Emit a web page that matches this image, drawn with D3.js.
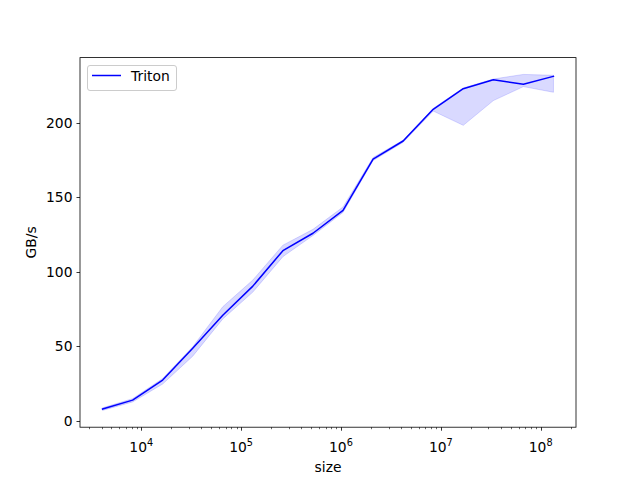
<!DOCTYPE html>
<html>
<head>
<meta charset="utf-8">
<script src="https://cdn.jsdelivr.net/npm/d3@7"></script>
<style>
  html, body { margin: 0; padding: 0; background: #fff; }
  svg text { font-family: "DejaVu Sans", sans-serif; fill: #000; }
</style>
</head>
<body>
<svg id="chart" width="640" height="480"></svg>
<script>
// ---- data ----
const sizes = [4096, 8192, 16384, 32768, 65536, 131072, 262144, 524288,
               1048576, 2097152, 4194304, 8388608, 16777216, 33554432, 67108864, 134217728];
const gbps  = [8.0, 14.0, 27.5, 48.8, 71.0, 90.5, 114.3, 126.0,
               141.4, 175.8, 187.9, 209.2, 223.0, 229.0, 226.0, 231.3];
const gbpsMin = [7.1, 12.8, 24.8, 43.5, 68.5, 86.5, 110.3, 124.5,
                 140.0, 174.8, 187.0, 208.0, 198.4, 215.0, 224.4, 220.6];
const gbpsMax = [8.8, 15.0, 28.5, 49.8, 76.7, 94.6, 118.0, 128.6,
                 143.6, 176.8, 188.5, 209.8, 223.5, 229.5, 232.6, 232.0];
const yTicks = [0, 50, 100, 150, 200];
const seriesName = "Triton";
const xLabel = "size";
const yLabel = "GB/s";

// ---- layout ----
const W = 640, H = 480;
const L = 80, R = 576, T = 57.6, B = 427.2;
const fs = 13.89;

const svg = d3.select("#chart");

// x scale: log with 5% margins in log-space
const lx0 = Math.log10(d3.min(sizes)), lx1 = Math.log10(d3.max(sizes));
const px = (lx1 - lx0) * 0.05;
const x = d3.scaleLog().domain([Math.pow(10, lx0 - px), Math.pow(10, lx1 + px)]).range([L, R]);

// y scale: linear with 5% margins
const ymin = d3.min(gbpsMin.concat(gbps)), ymax = d3.max(gbpsMax.concat(gbps));
const py = (ymax - ymin) * 0.05;
const y = d3.scaleLinear().domain([ymin - py, ymax + py]).range([B, T]);

const data = sizes.map((s, i) => ({ s, v: gbps[i], lo: gbpsMin[i], hi: gbpsMax[i] }));

// band
svg.append("path")
  .datum(data)
  .attr("d", d3.area().x(d => x(d.s)).y0(d => y(d.lo)).y1(d => y(d.hi)))
  .attr("fill", "rgba(0,0,255,0.15)")
  .attr("stroke", "rgba(0,0,255,0.15)")
  .attr("stroke-width", 1);

// line
svg.append("path")
  .datum(data)
  .attr("d", d3.line().x(d => x(d.s)).y(d => y(d.v)))
  .attr("fill", "none")
  .attr("stroke", "#0000ff")
  .attr("stroke-width", 1.5)
  .attr("stroke-linejoin", "round")
  .attr("stroke-linecap", "square");

// spines
svg.append("rect")
  .attr("x", L).attr("y", T).attr("width", R - L).attr("height", B - T)
  .attr("fill", "none").attr("stroke", "#000").attr("stroke-width", 0.8);

// x ticks
const xt = x.ticks();
const xg = svg.append("g");
xt.forEach(t => {
  const lg = Math.log10(t);
  const major = Math.abs(lg - Math.round(lg)) < 1e-9;
  const xx = Math.round(x(t)) + 0.5;
  xg.append("line")
    .attr("x1", xx).attr("x2", xx)
    .attr("y1", B).attr("y2", B + (major ? 3.5 : 2))
    .attr("stroke", "#000").attr("stroke-width", major ? 0.8 : 0.6);
  if (major) {
    const txt = xg.append("text")
      .attr("x", x(t)).attr("y", 451.5)
      .attr("text-anchor", "middle")
      .attr("font-size", fs);
    txt.append("tspan").text("10");
    txt.append("tspan").attr("font-size", fs * 0.7).attr("dy", -6).text(String(Math.round(lg)));
  }
});

// y ticks
const yg = svg.append("g");
yTicks.forEach(t => {
  const yy = Math.round(y(t)) + 0.5;
  yg.append("line")
    .attr("x1", L - 3.5).attr("x2", L)
    .attr("y1", yy).attr("y2", yy)
    .attr("stroke", "#000").attr("stroke-width", 0.8);
  yg.append("text")
    .attr("x", L - 7.5).attr("y", y(t))
    .attr("dy", "0.36em")
    .attr("text-anchor", "end")
    .attr("font-size", fs)
    .text(t);
});

// axis labels
svg.append("text")
  .attr("x", (L + R) / 2).attr("y", 472)
  .attr("text-anchor", "middle").attr("font-size", fs)
  .text(xLabel);
svg.append("text")
  .attr("transform", `translate(${36},${(T + B) / 2}) rotate(-90)`)
  .attr("text-anchor", "middle").attr("font-size", fs)
  .text(yLabel);

// legend
const lg = svg.append("g");
lg.append("rect")
  .attr("x", 87.5).attr("y", 65.5).attr("width", 89).attr("height", 25)
  .attr("rx", 2.5).attr("ry", 2.5)
  .attr("fill", "rgba(255,255,255,0.8)")
  .attr("stroke", "#cccccc").attr("stroke-width", 1);
lg.append("line")
  .attr("x1", 92).attr("x2", 121).attr("y1", 75.5).attr("y2", 75.5)
  .attr("stroke", "#0000ff").attr("stroke-width", 1.5);
lg.append("text")
  .attr("x", 131).attr("y", 80.5)
  .attr("font-size", fs)
  .text(seriesName);
</script>
</body>
</html>
